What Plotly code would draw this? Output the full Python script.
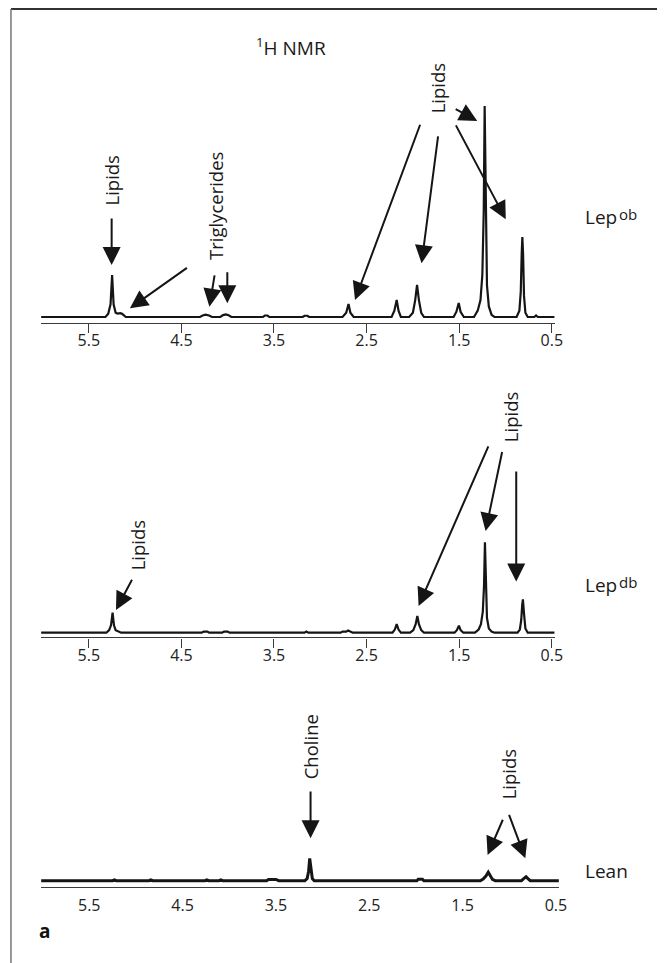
import plotly.graph_objects as go

# ---------------- data (ppm, relative intensity) ----------------
# Lep ob spectrum (top)
ob_ppm = [6.015, 5.32, 5.29, 5.265, 5.248, 5.232, 5.21, 5.19, 5.16, 5.14, 5.10,
          4.30, 4.27, 4.24, 4.20, 4.17, 4.08, 4.05, 4.02, 3.99, 3.96,
          3.62, 3.60, 3.57, 3.55, 3.19, 3.17, 3.14, 3.12,
          2.76, 2.72, 2.695, 2.675, 2.64,
          2.23, 2.20, 2.175, 2.155, 2.13,
          2.04, 2.00, 1.975, 1.955, 1.935, 1.91, 1.88,
          1.56, 1.53, 1.505, 1.485, 1.45,
          1.34, 1.30, 1.27, 1.25, 1.235, 1.225, 1.215, 1.20, 1.18, 1.15, 1.12,
          0.88, 0.85, 0.835, 0.825, 0.818, 0.81, 0.80, 0.785, 0.76,
          0.69, 0.67, 0.65, 0.469]
ob_int = [0, 0, 1.5, 6, 19.9, 6, 2, 1.6, 1.8, 1.5, 0,
          0, 0.7, 1.1, 0.7, 0, 0, 0.9, 1.2, 0.8, 0,
          0, 0.7, 0.7, 0, 0, 0.6, 0.6, 0,
          0, 2, 6.2, 2, 0,
          0, 3, 8.1, 3, 0,
          0, 2, 8, 15.2, 8, 2, 0,
          0, 2.5, 6.6, 2.5, 0,
          0, 3, 8, 20, 50, 100, 50, 15, 5, 1, 0,
          0, 3, 12, 30, 37.9, 30, 10, 2, 0,
          0, 0.7, 0, 0]

# Lep db spectrum (middle)
db_ppm = [6.015, 5.31, 5.28, 5.26, 5.243, 5.228, 5.21, 5.18, 5.15,
          4.28, 4.26, 4.22, 4.20, 4.06, 4.04, 4.00, 3.98,
          3.17, 3.15, 3.13, 2.78, 2.76, 2.73, 2.72, 2.70, 2.67, 2.65,
          2.22, 2.195, 2.175, 2.155, 2.13,
          2.03, 1.995, 1.97, 1.952, 1.935, 1.91, 1.88,
          1.55, 1.525, 1.503, 1.485, 1.455,
          1.33, 1.29, 1.265, 1.245, 1.232, 1.222, 1.212, 1.20, 1.18, 1.15, 1.12,
          0.87, 0.845, 0.83, 0.82, 0.812, 0.80, 0.785, 0.76, 0.469]
db_int = [0, 0, 1.2, 3.5, 9.5, 3.5, 1.2, 0.6, 0,
          0, 0.5, 0.5, 0, 0, 0.5, 0.5, 0,
          0, 0.5, 0, 0, 0.5, 0.3, 0.5, 1.0, 0.4, 0,
          0, 1.5, 4.1, 1.5, 0,
          0, 1.2, 4, 7.9, 4, 1.2, 0,
          0, 1.2, 3.3, 1.2, 0,
          0, 1.5, 4, 10, 22, 42.8, 22, 7, 2, 0.5, 0,
          0, 1.5, 6, 13, 15.8, 9, 2, 0, 0]

# Lean spectrum (bottom)
lean_ppm = [6.016, 5.25, 5.23, 5.21, 4.86, 4.84, 4.82, 4.26, 4.24, 4.22,
            4.11, 4.09, 4.07, 3.60, 3.58, 3.53, 3.50, 3.47,
            3.19, 3.165, 3.15, 3.138, 3.125, 3.11, 3.09,
            1.99, 1.975, 1.93, 1.915,
            1.31, 1.28, 1.25, 1.225, 1.205, 1.18, 1.15,
            0.87, 0.845, 0.82, 0.80, 0.775, 0.468]
lean_int = [0, 0, 0.4, 0, 0, 0.4, 0, 0, 0.4, 0,
            0, 0.4, 0, 0, 0.6, 0.6, 0.6, 0,
            0, 1.0, 4.5, 10.6, 4.5, 1.0, 0,
            0, 0.7, 0.7, 0,
            0, 0.8, 2.2, 4.0, 2.5, 0.6, 0,
            0, 1.0, 1.9, 1.0, 0, 0]

tick_vals = [5.5, 4.5, 3.5, 2.5, 1.5, 0.5]
tick_text = ["5.5", "4.5", "3.5", "2.5", "1.5", "0.5"]
panel_names = ["Lep", "Lep", "Lean"]
panel_sups = ["ob", "db", ""]

# ---------------- layout helpers ----------------
# the page body adds an 8 px margin, so the figure is placed 8 px in
OFF = 8
W, H = 665 - OFF, 963 - OFF
FONT = "Open Sans, Noto Sans, DejaVu Sans, sans-serif"


def px_x(p):
    return (p - OFF) / W


def px_y(p):
    return 1 - (p - OFF) / H


fig = go.Figure()
for i, (xs, ys, lw) in enumerate([(ob_ppm, ob_int, 2.2),
                                  (db_ppm, db_int, 2.2),
                                  (lean_ppm, lean_int, 3.0)]):
    sfx = "" if i == 0 else str(i + 1)
    fig.add_trace(go.Scatter(x=xs, y=ys, mode="lines", xaxis="x" + sfx,
                             yaxis="y" + sfx, line=dict(color="#151515", width=lw),
                             hoverinfo="skip", showlegend=False))

# axis geometry: (x domain px, x range, y domain px bottom/top, y range)
axes_geo = [
    ((41.5, 561.4), [6.015, 0.469], (322.7, 50), [-2.7, 126.5], True),
    ((41.5, 561.4), [6.015, 0.469], (637.3, 360), [-2.18, 129.2], True),
    ((41.5, 565.7), [6.016, 0.468], (887.3, 690), [-3.13, 90.4], False),
]
layout = {}
for i, (xd, xr, yd, yr, showticks) in enumerate(axes_geo):
    sfx = "" if i == 0 else str(i + 1)
    layout["xaxis" + sfx] = dict(
        domain=[px_x(xd[0]), px_x(xd[1])], range=xr, anchor="y" + sfx,
        showline=True, linecolor="#3a3a3a", linewidth=1.4,
        ticks="outside", ticklen=9, tickwidth=1.4, ticklabelstandoff=-6,
        tickcolor="#3a3a3a" if showticks else "rgba(0,0,0,0)",
        tickvals=tick_vals, ticktext=tick_text, showgrid=False, zeroline=False,
        tickfont=dict(family=FONT, size=16, color="#222"), fixedrange=True)
    layout["yaxis" + sfx] = dict(
        domain=[px_y(yd[0]), px_y(yd[1])], range=yr, anchor="x" + sfx,
        visible=False, fixedrange=True)

# arrows: (panel, tail ppm, tail int, head ppm, head int)
arrows = [
    (1, 5.253, 47.4, 5.253, 24.6),
    (1, 4.424, 23.8, 5.056, 4.1),
    (1, 4.139, 20.4, 4.197, 4.9),
    (1, 4.004, 21.9, 4.004, 6.5),
    (1, 1.916, 91.8, 2.625, 8.1),
    (1, 1.726, 86.3, 1.906, 25.5),
    (1, 1.544, 91.5, 0.997, 46.3),
    (1, 1.554, 98.9, 1.305, 92.9),
    (2, 5.025, 25.8, 5.206, 10.8),
    (2, 1.178, 89.0, 1.938, 12.7),
    (2, 1.033, 86.3, 1.215, 48.2),
    (2, 0.884, 77.1, 0.884, 24.2),
    (3, 3.129, 43.0, 3.129, 20.1),
    (3, 1.062, 29.6, 1.232, 12.2),
    (3, 1.008, 31.9, 0.828, 10.6),
]
# vertical labels: (panel, text, ppm, intensity)
labels = [
    (1, "Lipids", 5.253, 64.5),
    (1, "Triglycerides", 4.132, 52.8),
    (1, "Lipids", 1.734, 108.1),
    (2, "Lipids", 4.975, 41.6),
    (2, "Lipids", 0.943, 102.0),
    (3, "Choline", 3.129, 63.5),
    (3, "Lipids", 1.008, 50.2),
]

annotations = []
for p, tx, ty, hx, hy in arrows:
    sfx = "" if p == 1 else str(p)
    annotations.append(dict(
        x=hx, y=hy, ax=tx, ay=ty, xref="x" + sfx, yref="y" + sfx,
        axref="x" + sfx, ayref="y" + sfx, text="", showarrow=True,
        arrowhead=2, arrowsize=1.8, arrowwidth=2, arrowcolor="#151515",
        standoff=0, startstandoff=0))
for p, txt, x, y in labels:
    sfx = "" if p == 1 else str(p)
    annotations.append(dict(
        x=x, y=y, xref="x" + sfx, yref="y" + sfx, text=txt, showarrow=False,
        textangle=-90, font=dict(family=FONT, size=18.5, color="#1a1a1a"),
        xanchor="center", yanchor="middle"))

# panel names on the right (main text + raised smaller suffix)
for name, sup, ypx in zip(panel_names, panel_sups, [216.7, 585, 871.4]):
    annotations.append(dict(
        x=px_x(590), y=px_y(ypx), xref="paper", yref="paper", text=name,
        showarrow=False, xanchor="left", yanchor="middle",
        font=dict(family=FONT, size=19, color="#1a1a1a")))
    if sup:
        annotations.append(dict(
            x=px_x(625), y=px_y(ypx - 3), xref="paper", yref="paper", text=sup,
            showarrow=False, xanchor="left", yanchor="middle",
            font=dict(family=FONT, size=15, color="#1a1a1a")))

annotations.append(dict(
    x=px_x(294.5), y=px_y(46.7), xref="paper", yref="paper",
    text="<sup>1</sup>H NMR", showarrow=False, xanchor="center",
    yanchor="middle", font=dict(family=FONT, size=19, color="#1a1a1a")))
annotations.append(dict(
    x=px_x(45), y=px_y(931), xref="paper", yref="paper",
    text="<b>a</b>", showarrow=False, xanchor="center", yanchor="middle",
    font=dict(family=FONT, size=19, color="#111")))

shapes = [
    dict(type="line", xref="paper", yref="paper", x0=px_x(11), x1=1.0,
         y0=px_y(9), y1=px_y(9), line=dict(color="#333", width=2)),
    dict(type="line", xref="paper", yref="paper", x0=px_x(11), x1=px_x(11),
         y0=px_y(9), y1=0, line=dict(color="#777", width=1.5)),
]

fig.update_layout(
    width=W, height=H, margin=dict(l=0, r=0, t=0, b=0),
    paper_bgcolor="white", plot_bgcolor="white",
    annotations=annotations, shapes=shapes, showlegend=False,
    font=dict(family=FONT), **layout)

fig.write_html("out.html")
